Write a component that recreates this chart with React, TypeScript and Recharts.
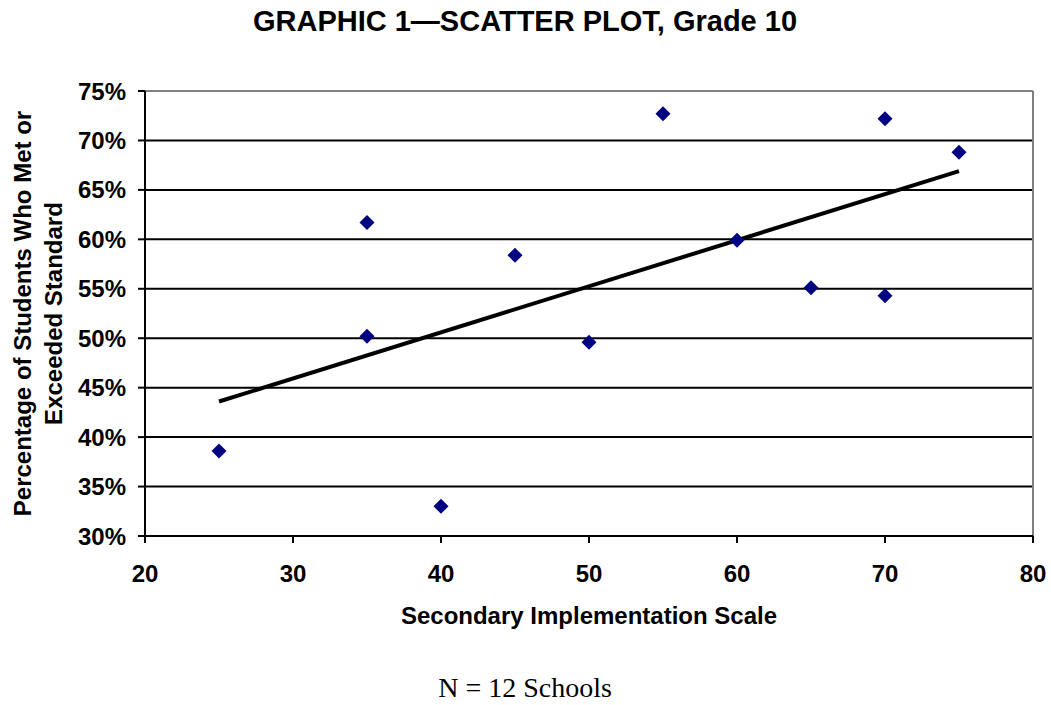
import { ScatterChart, Scatter, XAxis, YAxis, CartesianGrid, ReferenceLine, Label } from 'recharts';

// Secondary implementation scale (x) vs share of students who met or exceeded standard (y, %)
const schoolScale = [25, 35, 35, 40, 45, 50, 55, 60, 65, 70, 70, 75];
const metStandard = [38.6, 61.7, 50.2, 33.0, 58.4, 49.6, 72.7, 59.9, 55.1, 72.2, 54.3, 68.8];

// linear trendline end points
const trendScale = [25, 75];
const trendValue = [43.6, 66.9];

const xTicks = [20, 30, 40, 50, 60, 70, 80];
const yTicks = [30, 35, 40, 45, 50, 55, 60, 65, 70, 75];

const FONT = '"Liberation Sans", Arial, sans-serif';

const points = schoolScale.map((x, i) => ({ x, y: metStandard[i] }));
const trend = trendScale.map((x, i) => ({ x, y: trendValue[i] }));

const Diamond = (props: any) => {
  const { cx, cy } = props;
  const r = 7.5;
  return (
    <polygon
      points={`${cx},${cy - r} ${cx + r},${cy} ${cx},${cy + r} ${cx - r},${cy}`}
      fill="#000080"
    />
  );
};

const NoDot = () => <g />;

export default function App() {
  return (
    <div style={{ position: 'absolute', left: 0, top: 0, width: 1051, height: 705, background: '#fff' }}>
      <ScatterChart width={1051} height={705} margin={{ top: 91, right: 18, bottom: 0, left: 0 }}>
        <text x={525} y={31} textAnchor="middle" fontFamily={FONT} fontWeight="bold" fontSize={29} fill="#000">
          GRAPHIC 1—SCATTER PLOT, Grade 10
        </text>
        <CartesianGrid vertical={false} stroke="#000" strokeWidth={2} strokeOpacity={1} />
        <XAxis
          type="number"
          dataKey="x"
          domain={[20, 80]}
          ticks={xTicks}
          height={169}
          tickSize={7}
          tickMargin={22}
          axisLine={{ stroke: '#000', strokeWidth: 2 }}
          tickLine={{ stroke: '#000', strokeWidth: 2 }}
          tick={{ fill: '#000', fontFamily: FONT, fontWeight: 'bold', fontSize: 24 }}
        >
          <Label
            content={({ viewBox }: any) => (
              <text
                x={viewBox.x + viewBox.width / 2}
                y={viewBox.y + 87.5}
                textAnchor="middle"
                fontFamily={FONT}
                fontWeight="bold"
                fontSize={24}
                fill="#000"
              >
                Secondary Implementation Scale
              </text>
            )}
          />
        </XAxis>
        <YAxis
          type="number"
          dataKey="y"
          domain={[30, 75]}
          ticks={yTicks}
          width={145}
          tickSize={7}
          tickMargin={12}
          tickFormatter={(v) => `${v}%`}
          axisLine={{ stroke: '#000', strokeWidth: 2 }}
          tickLine={{ stroke: '#000', strokeWidth: 2 }}
          tick={{ fill: '#000', fontFamily: FONT, fontWeight: 'bold', fontSize: 24 }}
        >
          <Label
            content={({ viewBox }: any) => {
              const cy = viewBox.y + viewBox.height / 2;
              return (
                <g fontFamily={FONT} fontWeight="bold" fontSize={24} fill="#000">
                  <text x={31} y={cy} textAnchor="middle" transform={`rotate(-90, 31, ${cy})`}>
                    Percentage of Students Who Met or
                  </text>
                  <text x={62} y={cy} textAnchor="middle" transform={`rotate(-90, 62, ${cy})`}>
                    Exceeded Standard
                  </text>
                </g>
              );
            }}
          />
        </YAxis>
        <ReferenceLine y={75} stroke="#808080" strokeWidth={2} />
        <ReferenceLine x={80} stroke="#808080" strokeWidth={2} />
        <Scatter
          data={trend}
          line={{ stroke: '#000', strokeWidth: 4 }}
          shape={NoDot}
          isAnimationActive={false}
        />
        <Scatter data={points} shape={Diamond} isAnimationActive={false} />
        <text
          x={525}
          y={697}
          textAnchor="middle"
          fontFamily='"Liberation Serif", "Times New Roman", serif'
          fontSize={28}
          fill="#000"
        >
          N = 12 Schools
        </text>
      </ScatterChart>
    </div>
  );
}
